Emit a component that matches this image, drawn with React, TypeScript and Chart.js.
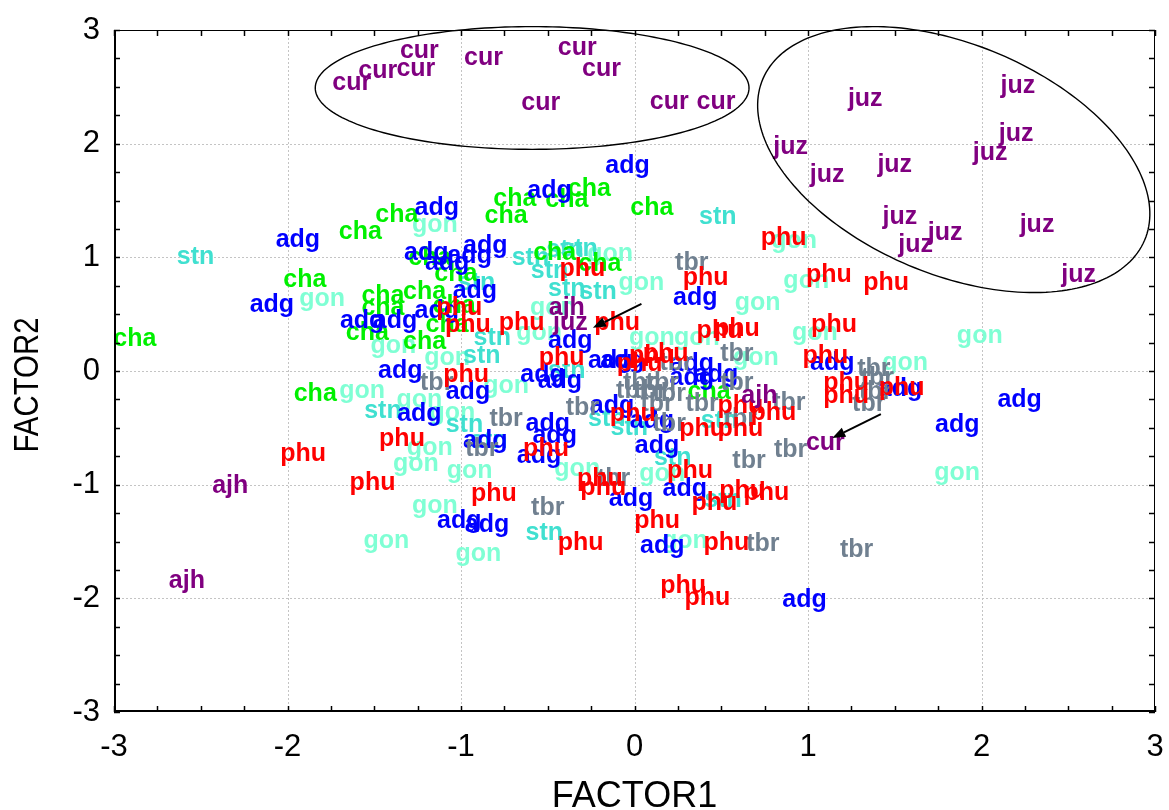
import React, { useEffect, useRef } from "react";
import { Chart, registerables } from "chart.js";

Chart.register(...registerables);

const axisTicks = [-3, -2, -1, 0, 1, 2, 3];
const xTitle = "FACTOR1";
const yTitle = "FACTOR2";

const adg: [number, number][] = [
  [-0.04, 1.8], [-0.49, 1.58], [-1.14, 1.43], [-1.94, 1.15], [-0.86, 1.1], [-1.2, 1.04], [-0.95, 1.01],
  [-1.08, 0.95], [-0.92, 0.7], [-2.09, 0.58], [-1.14, 0.53], [-1.38, 0.44], [-1.57, 0.44], [0.35, 0.64],
  [-0.37, 0.26], [-1.35, 0.0], [-0.96, -0.19], [-0.53, -0.04], [-0.43, -0.09], [-0.14, 0.09], [-0.07, 0.09],
  [0.33, 0.06], [0.33, -0.06], [0.47, -0.04], [-0.13, -0.31], [0.1, -0.44], [-1.24, -0.38], [-0.5, -0.47],
  [-0.46, -0.57], [-0.55, -0.75], [-0.86, -0.62], [0.13, -0.66], [-0.02, -1.13], [0.29, -1.04], [1.14, 0.07],
  [1.53, -0.16], [1.86, -0.48], [2.22, -0.26], [-1.01, -1.32], [-0.85, -1.36], [0.16, -1.54], [0.98, -2.02],
];
const cha: [number, number][] = [
  [-2.88, 0.28], [-1.84, -0.2], [-1.9, 0.8], [-1.58, 1.22], [-1.37, 1.37], [-1.45, 0.66], [-1.45, 0.55],
  [-1.54, 0.33], [-1.18, 0.99], [-1.03, 0.85], [-1.21, 0.69], [-1.04, 0.57], [-1.08, 0.4], [-1.21, 0.25],
  [-0.74, 1.36], [-0.69, 1.51], [-0.39, 1.5], [-0.26, 1.6], [0.1, 1.43], [-0.46, 1.04], [-0.2, 0.94], [0.43, -0.19],
];
const gon: [number, number][] = [
  [-1.15, 1.28], [-1.8, 0.63], [-0.14, 1.03], [0.04, 0.77], [-0.47, 0.55], [-0.55, 0.33], [-1.39, 0.22],
  [-1.57, -0.18], [-1.08, 0.11], [-0.74, -0.13], [-1.24, -0.26], [-1.05, -0.37], [-1.18, -0.68], [-1.26, -0.82],
  [-0.95, -0.88], [-0.33, -0.86], [-1.15, -1.19], [-1.43, -1.5], [-0.9, -1.61], [0.1, 0.29], [0.36, 0.29],
  [0.71, 0.6], [0.92, 1.14], [0.99, 0.79], [1.04, 0.33], [0.7, 0.11], [1.56, 0.07], [1.99, 0.31], [1.86, -0.9],
  [0.29, -1.5], [0.16, -0.91],
];
const stn: [number, number][] = [
  [-2.53, 1.0], [0.48, 1.35], [-0.6, 0.99], [-0.4, 1.06], [-0.32, 1.07], [-0.49, 0.88], [-0.39, 0.72],
  [-0.21, 0.69], [-0.91, 0.77], [-0.82, 0.29], [-0.88, 0.13], [-0.39, 0.0], [-1.45, -0.35], [-0.98, -0.48],
  [-0.84, -0.62], [-0.16, -0.42], [-0.03, -0.5], [0.49, -0.44], [0.22, -0.77], [0.51, -1.14], [-0.52, -1.43],
];
const tbr: [number, number][] = [
  [0.33, 0.95], [-1.14, -0.11], [-0.74, -0.42], [-0.88, -0.69], [-0.3, -0.33], [0.03, -0.11], [0.09, -0.18],
  [-0.01, -0.18], [0.2, -0.2], [0.24, 0.07], [0.59, 0.15], [0.59, -0.11], [0.13, -0.29], [0.39, -0.29],
  [0.2, -0.47], [0.61, -0.42], [0.89, -0.28], [1.38, 0.02], [1.4, -0.06], [1.39, -0.19], [1.35, -0.29],
  [0.9, -0.7], [0.66, -0.79], [-0.12, -0.95], [-0.5, -1.21], [0.74, -1.52], [1.28, -1.58], [0.16, -0.11],
];
const phu: [number, number][] = [
  [0.86, 1.17], [-0.3, 0.9], [-1.01, 0.55], [-0.96, 0.4], [-0.65, 0.42], [-0.1, 0.42], [0.41, 0.82],
  [1.12, 0.84], [1.45, 0.77], [0.49, 0.35], [0.59, 0.37], [1.15, 0.4], [-0.42, 0.11], [0.1, 0.13],
  [0.03, 0.06], [-0.97, -0.04], [1.1, 0.13], [1.22, -0.11], [1.22, -0.22], [1.54, -0.15], [0.18, 0.15],
  [-0.01, -0.38], [0.61, -0.31], [0.8, -0.37], [0.39, -0.51], [0.61, -0.51], [-0.51, -0.69], [-1.34, -0.6],
  [-1.91, -0.73], [-1.51, -0.99], [-0.2, -0.95], [-0.18, -1.03], [0.32, -0.88], [-0.81, -1.08], [0.13, -1.32],
  [0.62, -1.06], [0.76, -1.07], [0.46, -1.16], [-0.31, -1.51], [0.53, -1.51], [0.28, -1.89], [0.42, -2.0],
];
const cur: [number, number][] = [
  [-1.63, 2.53], [-1.48, 2.64], [-1.26, 2.66], [-1.24, 2.81], [-0.87, 2.75], [-0.33, 2.84], [-0.19, 2.66],
  [-0.54, 2.36], [0.2, 2.37], [0.47, 2.37], [1.1, -0.63],
];
const juz: [number, number][] = [
  [1.33, 2.39], [2.21, 2.51], [0.9, 1.97], [2.2, 2.08], [2.05, 1.92], [1.11, 1.72], [1.5, 1.81],
  [1.53, 1.35], [1.79, 1.21], [1.62, 1.11], [2.32, 1.28], [2.56, 0.84], [-0.37, 0.42],
];
const ajh: [number, number][] = [
  [-2.33, -1.01], [-2.58, -1.85], [-0.39, 0.55], [0.72, -0.22],
];

const groups = [
  { name: "gon", color: "#7fffd4", pts: gon },
  { name: "stn", color: "#40e0d0", pts: stn },
  { name: "cha", color: "#00f000", pts: cha },
  { name: "adg", color: "#0000ff", pts: adg },
  { name: "tbr", color: "#708090", pts: tbr },
  { name: "phu", color: "#ff0000", pts: phu },
  { name: "cur", color: "#800080", pts: cur },
  { name: "juz", color: "#800080", pts: juz },
  { name: "ajh", color: "#800080", pts: ajh },
];

// ellipses: centre plus two conjugate semi-diameters, in data units
const ellipses = [
  { cx: -0.59, cy: 2.49, ux: 1.25, uy: 0, vx: 0, vy: 0.54 },
  { cx: 1.84, cy: 1.86, ux: 1.1, uy: -0.71, vx: -0.26, vy: -0.93 },
];
const arrows = [
  { x1: 0.04, y1: 0.59, x2: -0.24, y2: 0.38 },
  { x1: 1.42, y1: -0.38, x2: 1.14, y2: -0.59 },
];

const FONT = '"Liberation Sans", Arial, Helvetica, sans-serif';

const framePlugin = {
  id: "frameAndLabels",
  beforeDatasetsDraw(chart: any) {
    const { ctx, chartArea: a, scales } = chart;
    const xs = scales.x, ys = scales.y;
    ctx.save();
    ctx.strokeStyle = "#c4c4c4";
    ctx.lineWidth = 1;
    ctx.setLineDash([2, 2]);
    axisTicks.forEach((v) => {
      if (v <= -3 || v >= 3) return;
      const px = Math.round(xs.getPixelForValue(v)) + 0.5;
      ctx.beginPath(); ctx.moveTo(px, a.top); ctx.lineTo(px, a.bottom); ctx.stroke();
      const py = Math.round(ys.getPixelForValue(v)) + 0.5;
      ctx.beginPath(); ctx.moveTo(a.left, py); ctx.lineTo(a.right, py); ctx.stroke();
    });
    ctx.restore();
  },
  afterDatasetsDraw(chart: any) {
    const { ctx, chartArea: a, scales } = chart;
    const xs = scales.x, ys = scales.y;
    ctx.save();
    // text labels
    ctx.font = `bold 25px ${FONT}`;
    ctx.textAlign = "center";
    ctx.textBaseline = "middle";
    chart.data.datasets.forEach((ds: any, i: number) => {
      const meta = chart.getDatasetMeta(i);
      ctx.fillStyle = ds.textColor;
      meta.data.forEach((el: any) => ctx.fillText(ds.label, el.x, el.y));
    });
    // ellipses
    ctx.strokeStyle = "#000";
    ctx.lineWidth = 1.4;
    ellipses.forEach((e) => {
      ctx.beginPath();
      for (let k = 0; k <= 200; k++) {
        const t = (k / 200) * Math.PI * 2;
        const dx = e.cx + e.ux * Math.cos(t) + e.vx * Math.sin(t);
        const dy = e.cy + e.uy * Math.cos(t) + e.vy * Math.sin(t);
        const px = xs.getPixelForValue(dx), py = ys.getPixelForValue(dy);
        if (k === 0) ctx.moveTo(px, py); else ctx.lineTo(px, py);
      }
      ctx.closePath();
      ctx.stroke();
    });
    // arrows
    arrows.forEach((r) => {
      const x1 = xs.getPixelForValue(r.x1), y1 = ys.getPixelForValue(r.y1);
      const x2 = xs.getPixelForValue(r.x2), y2 = ys.getPixelForValue(r.y2);
      const ang = Math.atan2(y2 - y1, x2 - x1);
      const hl = 13, hw = 5;
      const bx = x2 - hl * Math.cos(ang), by = y2 - hl * Math.sin(ang);
      ctx.lineWidth = 2;
      ctx.beginPath(); ctx.moveTo(x1, y1); ctx.lineTo(bx, by); ctx.stroke();
      ctx.fillStyle = "#000";
      ctx.beginPath();
      ctx.moveTo(x2, y2);
      ctx.lineTo(bx + hw * Math.sin(ang), by - hw * Math.cos(ang));
      ctx.lineTo(bx - hw * Math.sin(ang), by + hw * Math.cos(ang));
      ctx.closePath();
      ctx.fill();
    });
    // frame
    ctx.strokeStyle = "#000";
    ctx.lineWidth = 1;
    ctx.strokeRect(a.left + 0.5, a.top + 0.5, a.right - a.left - 1, a.bottom - a.top - 1);
    ctx.lineWidth = 2;
    ctx.beginPath();
    ctx.moveTo(a.left + 1, a.top); ctx.lineTo(a.left + 1, a.bottom - 1); ctx.lineTo(a.right, a.bottom - 1);
    ctx.stroke();
    // inward tick marks
    ctx.lineWidth = 1.5;
    for (let v = -3; v <= 3.0001; v += 0.25) {
      const py = Math.round(ys.getPixelForValue(v)) + 0.5;
      ctx.beginPath(); ctx.moveTo(a.left, py); ctx.lineTo(a.left + 6, py); ctx.stroke();
      ctx.beginPath(); ctx.moveTo(a.right, py); ctx.lineTo(a.right - 6, py); ctx.stroke();
    }
    for (let v = -3; v <= 3.0001; v += 0.25) {
      const px = Math.round(xs.getPixelForValue(v)) + 0.5;
      ctx.beginPath(); ctx.moveTo(px, a.bottom); ctx.lineTo(px, a.bottom - 6); ctx.stroke();
      ctx.beginPath(); ctx.moveTo(px, a.top); ctx.lineTo(px, a.top + 6); ctx.stroke();
    }
    ctx.restore();
  },
  afterDraw(chart: any) {
    // condensed vertical axis title
    const { ctx } = chart;
    ctx.save();
    ctx.translate(28, 385);
    ctx.rotate(-Math.PI / 2);
    ctx.scale(0.84, 1);
    ctx.font = `35px ${FONT}`;
    ctx.fillStyle = "#000";
    ctx.textAlign = "center";
    ctx.textBaseline = "middle";
    ctx.fillText(yTitle, 0, 0);
    ctx.restore();
  },
};

export default function App() {
  const ref = useRef<HTMLCanvasElement | null>(null);
  useEffect(() => {
    document.body.style.margin = "0";
    if (!ref.current) return;
    const chart = new Chart(ref.current, {
      type: "scatter",
      data: {
        datasets: groups.map((g) => ({
          label: g.name,
          textColor: g.color,
          data: g.pts.map(([x, y]) => ({ x, y })),
          pointRadius: 0,
          pointHoverRadius: 0,
          backgroundColor: g.color,
          borderColor: g.color,
        })) as any,
      },
      options: {
        responsive: true,
        maintainAspectRatio: false,
        animation: false,
        layout: { padding: { left: 0, right: 14, top: 30, bottom: 0 } },
        plugins: { legend: { display: false }, tooltip: { enabled: false } },
        events: [],
        scales: {
          x: {
            type: "linear",
            min: -3,
            max: 3,
            afterBuildTicks: (s: any) => { s.ticks = axisTicks.map((v) => ({ value: v })); },
            afterFit: (s: any) => { s.height = 98; s.paddingLeft = 0; s.paddingRight = 0; },
            grid: { display: false },
            border: { display: false },
            ticks: { color: "#000", font: { family: FONT, size: 31 }, padding: 9, maxRotation: 0 },
            title: { display: true, text: xTitle, color: "#000", font: { family: FONT, size: 36, lineHeight: 1.0 }, padding: { top: 0, bottom: -5 } },
          },
          y: {
            type: "linear",
            min: -3,
            max: 3,
            afterBuildTicks: (s: any) => { s.ticks = axisTicks.map((v) => ({ value: v })); },
            afterFit: (s: any) => { s.width = 114; s.paddingTop = 0; s.paddingBottom = 0; },
            grid: { display: false },
            border: { display: false },
            ticks: { color: "#000", font: { family: FONT, size: 31 }, padding: 6 },
            title: { display: false, text: yTitle },
          },
        },
      },
      plugins: [framePlugin],
    });
    return () => chart.destroy();
  }, []);
  return (
    <div style={{ width: 1169, height: 810, position: "relative", background: "#fff" }}>
      <canvas ref={ref} />
    </div>
  );
}
